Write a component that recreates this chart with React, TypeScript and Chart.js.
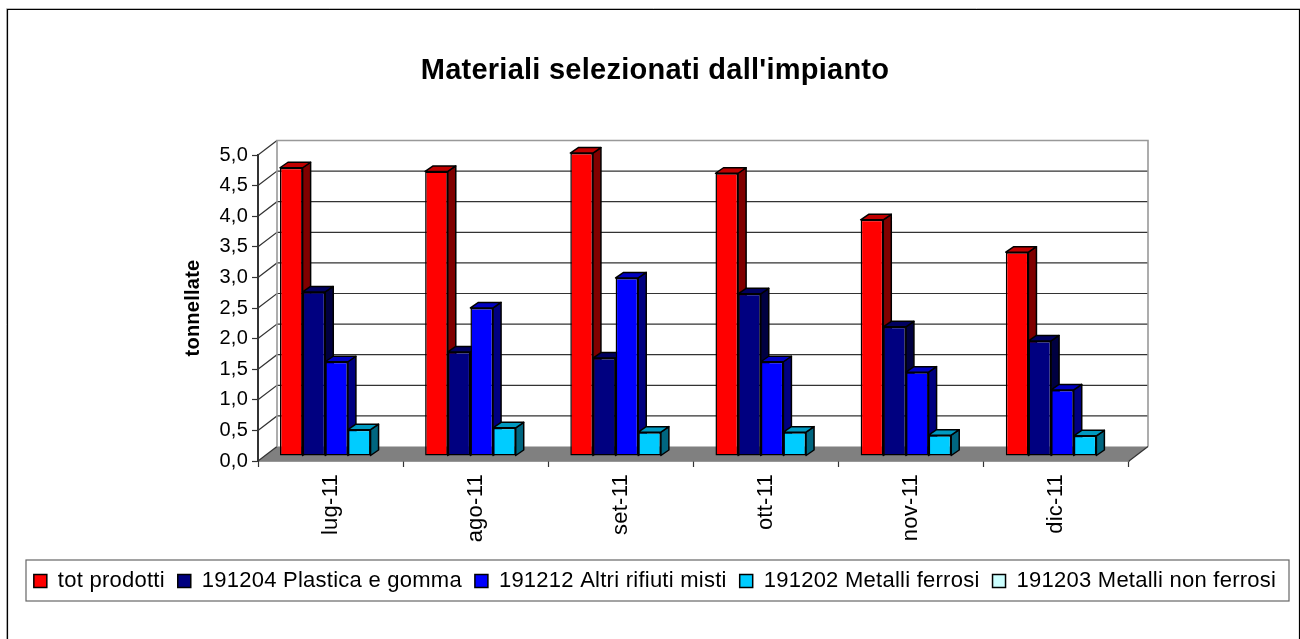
import React, { useEffect, useRef } from "react";
import { Chart, registerables } from "chart.js";

Chart.register(...registerables);

const chartTitle = "Materiali selezionati dall'impianto";
const yAxisTitle = "tonnellate";
const months = ["lug-11", "ago-11", "set-11", "ott-11", "nov-11", "dic-11"];

const seriesNames = [
  "tot prodotti",
  "191204 Plastica e gomma",
  "191212 Altri rifiuti misti",
  "191202 Metalli ferrosi",
  "191203 Metalli non ferrosi",
];
const totProdotti = [4.71, 4.65, 4.95, 4.62, 3.86, 3.33];
const plasticaGomma = [2.68, 1.7, 1.6, 2.65, 2.11, 1.88];
const altriRifiuti = [1.54, 2.42, 2.91, 1.54, 1.37, 1.08];
const metalliFerrosi = [0.43, 0.46, 0.39, 0.39, 0.34, 0.33];
const metalliNonFerrosi = [0, 0, 0, 0, 0, 0];
const seriesValues = [totProdotti, plasticaGomma, altriRifiuti, metalliFerrosi, metalliNonFerrosi];

const frontColors = ["#ff0000", "#000080", "#0000ff", "#00ccff", "#ccffff"];
const sideColors = ["#800000", "#000040", "#000080", "#006680", "#668080"];
const topColors = ["#c00000", "#000060", "#0000c0", "#0099c0", "#99c0c0"];

const FONT = "'Liberation Sans', Arial, sans-serif";
const wallDx = 19;
const wallDy = -14.5;
const barDx = 6;
const barDy = -5;
const depthDx = 8;
const depthDy = -5.5;

const poly = (ctx: CanvasRenderingContext2D, pts: number[][], fill: string) => {
  ctx.beginPath();
  pts.forEach((p, i) => (i ? ctx.lineTo(p[0], p[1]) : ctx.moveTo(p[0], p[1])));
  ctx.closePath();
  ctx.fillStyle = fill;
  ctx.fill();
  ctx.stroke();
};

const scene3d = {
  id: "scene3d",
  beforeLayout(chart: any) {
    chart.ctx.letterSpacing = "0.25px";
  },
  beforeDraw(chart: any) {
    const { ctx } = chart;
    ctx.save();
    ctx.strokeStyle = "#bbb";
    ctx.lineWidth = 1;
    ctx.beginPath();
    ctx.moveTo(6.5, 640);
    ctx.lineTo(6.5, 8.5);
    ctx.lineTo(1300, 8.5);
    ctx.stroke();
    ctx.strokeStyle = "#000";
    ctx.lineWidth = 1.2;
    ctx.beginPath();
    ctx.moveTo(7.5, 640);
    ctx.lineTo(7.5, 9.5);
    ctx.lineTo(1299.5, 9.5);
    ctx.lineTo(1299.5, 640);
    ctx.stroke();
    const lg = chart.legend;
    ctx.strokeStyle = "#666";
    ctx.lineWidth = 1.2;
    ctx.strokeRect(26, lg.top + 3, 1263, 41);
    ctx.restore();
  },
  beforeDatasetsDraw(chart: any) {
    const { ctx, chartArea: a, scales } = chart;
    ctx.save();
    ctx.fillStyle = "#808080";
    ctx.beginPath();
    ctx.moveTo(a.left, a.bottom);
    ctx.lineTo(a.left + wallDx, a.bottom + wallDy);
    ctx.lineTo(a.right + wallDx, a.bottom + wallDy);
    ctx.lineTo(a.right, a.bottom);
    ctx.closePath();
    ctx.fill();
    ctx.lineWidth = 1.2;
    ctx.strokeStyle = "#333";
    scales.y.ticks.forEach((_: any, i: number) => {
      const y = scales.y.getPixelForTick(i);
      ctx.beginPath();
      ctx.moveTo(a.left, y);
      ctx.lineTo(a.left + wallDx, y + wallDy);
      if (i > 0 && i < scales.y.ticks.length - 1) ctx.lineTo(a.right + wallDx, y + wallDy);
      ctx.stroke();
    });
    ctx.strokeStyle = "#999";
    ctx.lineWidth = 1.6;
    ctx.beginPath();
    ctx.moveTo(a.left + wallDx, a.bottom + wallDy);
    ctx.lineTo(a.left + wallDx, a.top + wallDy);
    ctx.lineTo(a.right + wallDx, a.top + wallDy);
    ctx.lineTo(a.right + wallDx, a.bottom + wallDy);
    ctx.stroke();
    ctx.strokeStyle = "#333";
    ctx.lineWidth = 1.2;
    ctx.beginPath();
    ctx.moveTo(a.right, a.bottom);
    ctx.lineTo(a.right + wallDx, a.bottom + wallDy);
    ctx.stroke();
    ctx.restore();

    // series are painted left to right so that each front hides its neighbour's side
    seriesNames.forEach((_, i) => {
      const meta = chart.getDatasetMeta(i);
      ctx.save();
      ctx.translate(barDx, barDy);
      ctx.strokeStyle = "#000";
      ctx.lineWidth = 1.5;
      ctx.lineJoin = "round";
      meta.data.forEach((el: any, k: number) => {
        if (!seriesValues[i][k]) return;
        const { x, y, base, width } = el.getProps(["x", "y", "base", "width"], true);
        const l = x - width / 2;
        const r = x + width / 2;
        poly(ctx, [[r, y], [r + depthDx, y + depthDy], [r + depthDx, base + depthDy], [r, base]], sideColors[i]);
        poly(ctx, [[l, y], [l + depthDx, y + depthDy], [r + depthDx, y + depthDy], [r, y]], topColors[i]);
      });
      meta.controller.draw();
      ctx.restore();
    });
  },
  beforeDatasetDraw() {
    return false;
  },
};

export default function App() {
  const ref = useRef<HTMLCanvasElement>(null);
  useEffect(() => {
    const chart = new Chart(ref.current as HTMLCanvasElement, {
      type: "bar",
      data: {
        labels: months,
        datasets: seriesNames.map((name, i) => ({
          label: name,
          data: seriesValues[i],
          backgroundColor: frontColors[i],
          borderColor: "#000",
          borderWidth: (c: any) => (c.raw === 0 ? 0 : 1.5),
          borderSkipped: false,
          clip: false,
          categoryPercentage: 0.78,
          barPercentage: 1,
        })),
      } as any,
      plugins: [scene3d],
      options: {
        animation: false,
        responsive: false,
        layout: { padding: { left: 10, right: 0, top: 0, bottom: 37 } },
        plugins: {
          tooltip: { enabled: false },
          title: {
            display: true,
            text: chartTitle,
            color: "#000",
            font: { family: FONT, size: 29, weight: "bold" },
            padding: { top: 53.6, bottom: 66.6 },
          },
          legend: {
            position: "bottom",
            labels: {
              color: "#000",
              font: { family: FONT, size: 22 },
              boxWidth: 13,
              boxHeight: 13,
              padding: 13,
              generateLabels: (c: any) =>
                Chart.defaults.plugins.legend.labels.generateLabels(c).map((item: any) => ({ ...item, lineWidth: 1.5 })),
            },
          },
        },
        scales: {
          x: {
            grid: { drawOnChartArea: false, color: "#333", tickLength: 6, tickWidth: 1.2 },
            border: { display: true, color: "#333", width: 1.5 },
            ticks: {
              color: "#000",
              font: { family: FONT, size: 22 },
              minRotation: 90,
              maxRotation: 90,
              padding: 7,
            },
            afterFit: (s: any) => {
              s.height = 96;
            },
          },
          y: {
            min: 0,
            max: 5,
            grid: { drawOnChartArea: false, color: "#333", tickLength: 6, tickWidth: 1.2 },
            border: { display: true, color: "#333", width: 2 },
            ticks: {
              stepSize: 0.5,
              color: "#000",
              font: { family: FONT, size: 20 },
              padding: 4,
              callback: (v: any) => Number(v).toFixed(1).replace(".", ","),
            },
            title: {
              display: true,
              text: yAxisTitle,
              color: "#000",
              font: { family: FONT, size: 20, weight: "bold" },
              padding: { top: 171, bottom: 0 },
            },
            afterFit: (s: any) => {
              s.width = 248;
            },
          },
          y2: {
            display: true,
            position: "right",
            grid: { display: false },
            border: { display: false },
            ticks: { display: false },
            afterFit: (s: any) => {
              s.width = 171;
            },
          },
        },
      } as any,
    });
    return () => chart.destroy();
  }, []);
  return (
    <div style={{ position: "absolute", left: 0, top: 0, width: 1300, height: 639, overflow: "hidden", background: "#fff" }}>
      <canvas ref={ref} width={1300} height={639} style={{ display: "block" }} />
    </div>
  );
}
